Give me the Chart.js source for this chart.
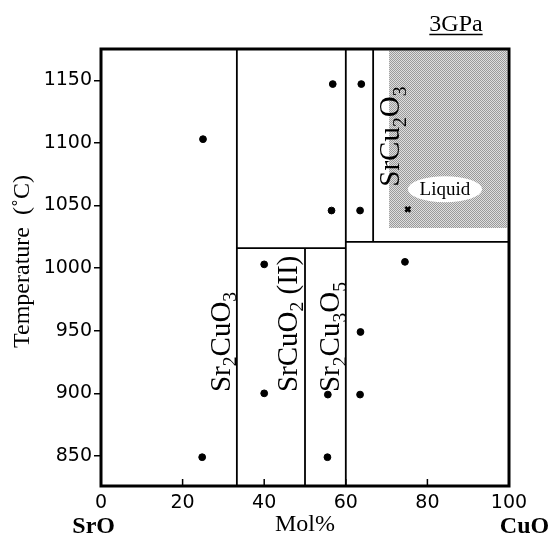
<!DOCTYPE html>
<html>
<head>
<meta charset="utf-8">
<script src="https://cdn.jsdelivr.net/npm/chart.js@4.4.1/dist/chart.umd.min.js"></script>
<style>
  body { margin: 0; background: #fff; }
</style>
</head>
<body>
<canvas id="phase" width="552" height="536"></canvas>
<script>
const xTicks = [0, 20, 40, 60, 80, 100];
const yTicks = [850, 900, 950, 1000, 1050, 1100, 1150];

// experimental runs (mol% CuO, temperature)
const runX = [25, 56.8, 63.8, 56.5, 63.5, 74.5, 40, 63.6, 40, 55.6, 63.5, 24.8, 55.5];
const runY = [1103, 1147, 1147, 1046, 1046, 1005, 1003, 949, 900, 899, 899, 849, 849];

// run where liquid appeared
const meltX = [75.2];
const meltY = [1047];

// phase boundaries, each one a segment [[x1, y1], [x2, y2]]
const boundaries = [
    [[33.3, 826], [33.3, 1175]],
    [[50, 826], [50, 1016]],
    [[33.3, 1016], [60, 1016]],
    [[60, 826], [60, 1175]],
    [[60, 1021], [100, 1021]],
    [[66.7, 1021], [66.7, 1175]]
];

// shaded liquid field
const liquidX = [70.6, 99.6];
const liquidTop = 1174;
const liquidBottom = 1032;

// dithered grey like the printed figure
function dither() {
    const c = document.createElement('canvas');
    c.width = 2; c.height = 2;
    const g = c.getContext('2d');
    g.fillStyle = '#dedede';
    g.fillRect(0, 0, 2, 2);
    g.fillStyle = '#9a9a9a';
    g.fillRect(0, 0, 1, 1);
    g.fillRect(1, 1, 1, 1);
    return g.createPattern(c, 'repeat');
}

const ctx = document.getElementById('phase').getContext('2d');
const shade = dither();

const datasets = [{
    label: 'runs',
    data: runX.map((x, i) => ({x: x, y: runY[i]})),
    backgroundColor: '#000',
    borderColor: '#000',
    pointRadius: 3.4,
    order: 0
}, {
    label: 'liquid run',
    data: meltX.map((x, i) => ({x: x, y: meltY[i]})),
    pointStyle: 'crossRot',
    pointRadius: 3.5,
    borderColor: '#000',
    borderWidth: 2.6,
    order: 0
}];

boundaries.forEach((seg, i) => {
    datasets.push({
        label: 'b' + i,
        data: seg.map(p => ({x: p[0], y: p[1]})),
        showLine: true,
        borderColor: '#000',
        borderWidth: 1.8,
        pointRadius: 0,
        order: 1
    });
});

datasets.push({
    label: 'liquid',
    data: liquidX.map(x => ({x: x, y: liquidTop})),
    showLine: true,
    borderWidth: 0,
    borderColor: 'rgba(0,0,0,0)',
    backgroundColor: shade,
    pointRadius: 0,
    fill: {value: liquidBottom},
    order: 2
});

const serif = '"Liberation Serif", "Times New Roman", serif';

// formula with subscripts, written bottom to top
function formula(c, parts, x, y, size) {
    c.save();
    c.translate(x, y);
    c.rotate(-Math.PI / 2);
    c.textAlign = 'left';
    c.textBaseline = 'alphabetic';
    let pos = 0;
    parts.forEach(p => {
        const sub = /^\d$/.test(p);
        c.font = (sub ? size * 0.68 : size) + 'px ' + serif;
        c.fillText(p, pos, sub ? size * 0.22 : 0);
        pos += c.measureText(p).width;
    });
    c.restore();
}

const decorations = {
    id: 'decorations',
    afterDatasetsDraw(chart) {
        const c = chart.ctx;
        const xs = chart.scales.x, ys = chart.scales.y;
        const a = chart.chartArea;
        c.save();
        c.fillStyle = '#000';
        c.strokeStyle = '#000';

        // label for the liquid field
        const ex = xs.getPixelForValue(84.3), ey = ys.getPixelForValue(1063);
        c.fillStyle = '#fff';
        c.beginPath();
        c.ellipse(ex, ey, 37, 13, 0, 0, Math.PI * 2);
        c.fill();
        c.fillStyle = '#000';
        c.font = '19px ' + serif;
        c.textAlign = 'center';
        c.textBaseline = 'middle';
        c.fillText('Liquid', ex, ey + 1);

        // compounds
        formula(c, ['Sr', '2', 'CuO', '3'], xs.getPixelForValue(31.6), ys.getPixelForValue(901), 29);
        formula(c, ['SrCuO', '2', ' (II)'], xs.getPixelForValue(48.0), ys.getPixelForValue(901), 29);
        formula(c, ['Sr', '2', 'Cu', '3', 'O', '5'], xs.getPixelForValue(58.4), ys.getPixelForValue(901), 29);
        formula(c, ['SrCu', '2', 'O', '3'], xs.getPixelForValue(73.1), ys.getPixelForValue(1065), 29);

        // inward ticks on the composition axis
        c.lineWidth = 1.5;
        xTicks.forEach(v => {
            const px = xs.getPixelForValue(v);
            c.beginPath();
            c.moveTo(px, a.bottom);
            c.lineTo(px, a.bottom - 7);
            c.stroke();
        });

        // frame
        c.lineWidth = 3;
        c.strokeRect(a.left, a.top, a.right - a.left, a.bottom - a.top);

        // axis titles
        c.font = '24px ' + serif;
        c.textAlign = 'center';
        c.textBaseline = 'alphabetic';
        c.save();
        c.translate(29, (a.top + a.bottom) / 2 - 6);
        c.rotate(-Math.PI / 2);
        c.fillText('Temperature  (\u02daC)', 0, 0);
        c.restore();

        c.fillText('Mol%', xs.getPixelForValue(50), 531);
        c.font = 'bold 24px ' + serif;
        c.fillText('SrO', xs.getPixelForValue(-1.8), 533);
        c.fillText('CuO', xs.getPixelForValue(103.8), 533);

        c.font = '24px ' + serif;
        c.fillText('3GPa', 456, 31);
        const w = c.measureText('3GPa').width;
        c.lineWidth = 1.5;
        c.beginPath();
        c.moveTo(456 - w / 2, 34.5);
        c.lineTo(456 + w / 2, 34.5);
        c.stroke();
        c.restore();
    }
};

const config = {
    type: 'scatter',
    data: {datasets: datasets},
    options: {
        responsive: false,
        animation: false,
        devicePixelRatio: 1,
        layout: {
            padding: {top: 49, right: 43, left: 0, bottom: 0}
        },
        plugins: {
            legend: {display: false},
            tooltip: {enabled: false}
        },
        scales: {
            x: {
                type: 'linear',
                min: 0,
                max: 100,
                afterFit: s => { s.height = 50; },
                afterBuildTicks: s => { s.ticks = xTicks.map(v => ({value: v})); },
                grid: {display: false, drawTicks: false},
                border: {display: false},
                ticks: {
                    color: '#000',
                    padding: 6,
                    maxRotation: 0,
                    font: {family: '"DejaVu Sans"', size: 19},
                    callback: v => String(v)
                }
            },
            y: {
                type: 'linear',
                min: 826,
                max: 1175,
                afterFit: s => { s.width = 101; },
                afterBuildTicks: s => { s.ticks = yTicks.map(v => ({value: v})); },
                grid: {
                    drawOnChartArea: false,
                    drawTicks: true,
                    tickLength: 7,
                    color: '#000',
                    lineWidth: 1.5
                },
                border: {display: false},
                ticks: {
                    color: '#000',
                    padding: 2,
                    font: {family: '"DejaVu Sans"', size: 19},
                    callback: v => String(v)
                }
            }
        }
    },
    plugins: [decorations]
};

const phaseChart = new Chart(ctx, config);
</script>
</body>
</html>
